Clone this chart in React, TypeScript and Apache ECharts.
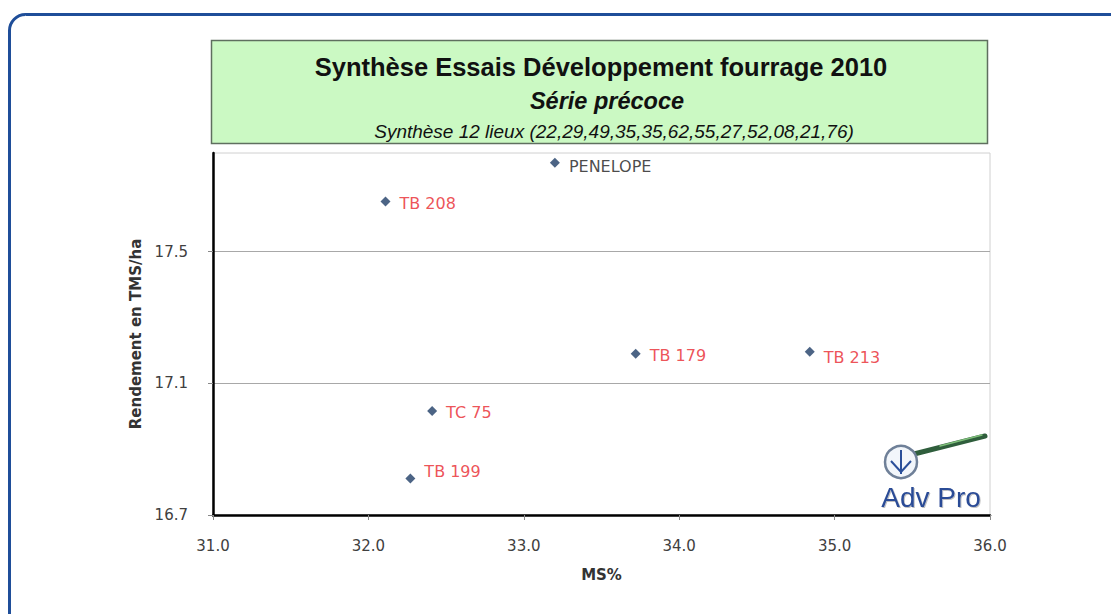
import React, { useEffect, useRef } from "react";
import * as echarts from "echarts";

const varieties = ["PENELOPE", "TB 208", "TB 179", "TB 213", "TC 75", "TB 199"];
const msPercent = [33.2, 32.11, 33.72, 34.84, 32.41, 32.27];
const rendement = [17.77, 17.653, 17.19, 17.196, 17.016, 16.811];
const labelColors = ["#1a1a1a", "#e8262d", "#e8262d", "#e8262d", "#e8262d", "#e8262d"];
const labelOffsets: [number, number][] = [[0, 4], [0, 2], [0, 2], [0, 6], [0, 1], [0, -7]];
const yTicks = [16.7, 17.1, 17.5];
const xMin = 31;
const xMax = 36;
const yMin = 16.7;
const yMax = 17.8;

const titleMain = "Synthèse Essais Développement fourrage 2010";
const titleSub = "Série précoce";
const titleNote = "Synthèse 12 lieux (22,29,49,35,35,62,55,27,52,08,21,76)";

export default function App() {
  const ref = useRef<HTMLDivElement>(null);
  useEffect(() => {
    if (!ref.current) return;
    const chart = echarts.init(ref.current, null, { renderer: "svg" });
    const font = "'Liberation Sans', Arial, sans-serif";
    const wide = "'DejaVu Sans', 'Liberation Sans', Arial, sans-serif";
    chart.setOption({
      animation: false,
      backgroundColor: "#ffffff",
      grid: {
        left: 213,
        right: 121,
        top: 153,
        bottom: 99,
        show: true,
        borderColor: "#d0d0d0",
        borderWidth: 1,
        backgroundColor: "transparent",
      },
      xAxis: {
        type: "value",
        min: xMin,
        max: xMax,
        interval: 1,
        name: "MS%",
        nameLocation: "middle",
        nameGap: 52,
        nameTextStyle: { fontFamily: wide, fontWeight: "bold", fontSize: 15, color: "#333" },
        axisLine: { show: true, lineStyle: { color: "#000", width: 2.5 } },
        axisTick: { show: true, length: 5, lineStyle: { color: "#888" } },
        axisLabel: {
          formatter: (v: number) => v.toFixed(1),
          fontFamily: wide,
          fontSize: 15,
          color: "#404040",
          margin: 23,
        },
        splitLine: { show: false },
      },
      yAxis: {
        type: "value",
        min: yMin,
        max: yMax,
        name: "Rendement en TMS/ha",
        nameLocation: "middle",
        nameGap: 70,
        nameTextStyle: { fontFamily: wide, fontWeight: "bold", fontSize: 15, color: "#333" },
        axisLine: { show: true, lineStyle: { color: "#000", width: 2.5 } },
        axisTick: { show: true, length: 5, customValues: yTicks, lineStyle: { color: "#888" } },
        axisLabel: {
          customValues: yTicks,
          formatter: (v: number) => v.toFixed(1),
          fontFamily: wide,
          fontSize: 15,
          color: "#404040",
          margin: 25,
        },
        splitLine: { show: true, lineStyle: { color: "#a8a8a8", width: 1.2 } },
      },
      series: [
        {
          type: "scatter",
          symbol: "diamond",
          symbolSize: 10,
          itemStyle: { color: "#1f3d66" },
          data: varieties.map((name, i) => ({
            name,
            value: [msPercent[i], rendement[i]],
            label: {
              show: true,
              position: "right",
              distance: 9,
              formatter: name,
              color: labelColors[i],
              offset: labelOffsets[i],
              fontFamily: wide,
              fontSize: 16,
            },
          })),
        },
      ],
      graphic: [
        {
          type: "rect",
          z: 100,
          shape: { x: 9.5, y: 14.5, width: 1300, height: 800, r: 16 },
          style: { fill: "none", stroke: "#1f4e99", lineWidth: 3 },
        },
        {
          type: "rect",
          z: 100,
          shape: { x: 211.5, y: 40.5, width: 776, height: 103 },
          style: { fill: "#cbf9c3", stroke: "#5f6f5f", lineWidth: 1.5 },
        },
        {
          type: "text",
          z: 101,
          x: 601,
          y: 67,
          style: {
            text: titleMain,
            fontFamily: font,
            fontWeight: "bold",
            fontSize: 25.5,
            fill: "#111",
            align: "center",
            verticalAlign: "middle",
          },
        },
        {
          type: "text",
          z: 101,
          x: 607,
          y: 101,
          style: {
            text: titleSub,
            fontFamily: font,
            fontStyle: "italic",
            fontWeight: "bold",
            fontSize: 23.5,
            fill: "#111",
            align: "center",
            verticalAlign: "middle",
          },
        },
        {
          type: "text",
          z: 101,
          x: 614,
          y: 131,
          style: {
            text: titleNote,
            fontFamily: font,
            fontStyle: "italic",
            fontSize: 19,
            fill: "#111",
            align: "center",
            verticalAlign: "middle",
          },
        },
        {
          type: "line",
          z: 101,
          shape: { x1: 914, y1: 454, x2: 985, y2: 436 },
          style: { stroke: "#2f5e3c", lineWidth: 5, lineCap: "round" },
        },
        {
          type: "line",
          z: 101,
          shape: { x1: 940, y1: 446, x2: 982, y2: 435 },
          style: { stroke: "#7fbf7a", lineWidth: 1.5, lineCap: "round" },
        },
        {
          type: "circle",
          z: 102,
          shape: { cx: 901, cy: 462, r: 16 },
          style: { fill: "#f2f6fb", stroke: "#6f8098", lineWidth: 2.5 },
        },
        {
          type: "polyline",
          z: 103,
          shape: { points: [[891, 461], [901, 472], [911, 461]] },
          style: { stroke: "#2a4f9a", lineWidth: 2, fill: "none" },
        },
        {
          type: "line",
          z: 103,
          shape: { x1: 901, y1: 450, x2: 901, y2: 474 },
          style: { stroke: "#2a4f9a", lineWidth: 2 },
        },
        {
          type: "text",
          z: 103,
          x: 931,
          y: 497,
          style: {
            text: "Adv Pro",
            fontFamily: font,
            fontSize: 28,
            fill: "#2b4c96",
            align: "center",
            verticalAlign: "middle",
            textShadowColor: "rgba(0,0,0,0.25)",
            textShadowOffsetX: 1,
            textShadowOffsetY: 1,
            textShadowBlur: 1,
          },
        },
      ],
    });
    return () => chart.dispose();
  }, []);
  return (
    <div
      ref={ref}
      style={{ position: "absolute", left: 0, top: 0, width: 1111, height: 614 }}
    />
  );
}
